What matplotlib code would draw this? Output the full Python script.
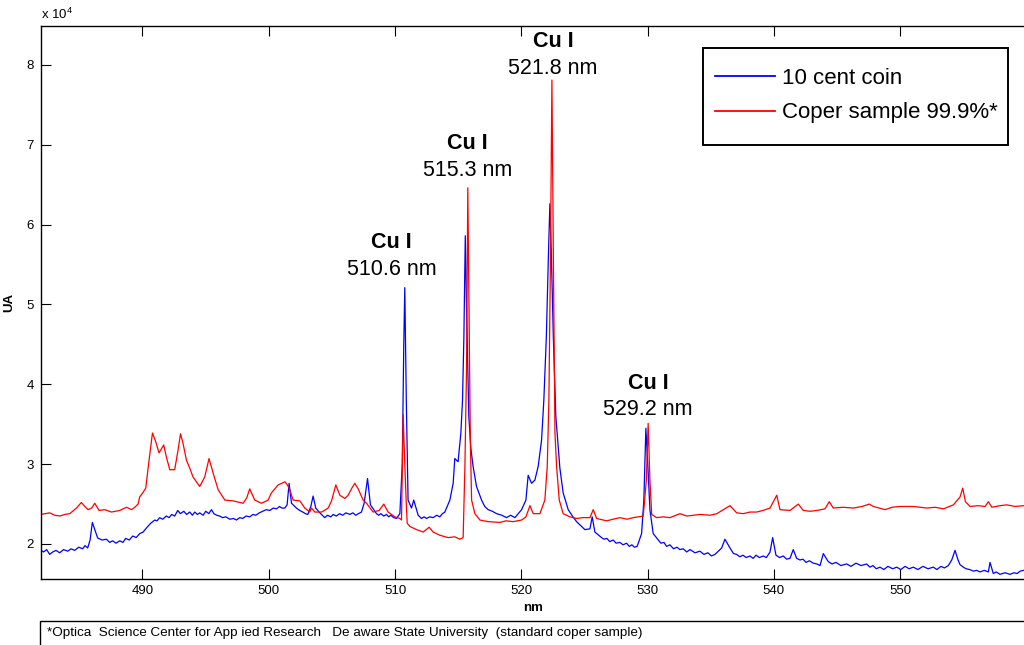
import numpy as np
import matplotlib
matplotlib.use("Agg")
import matplotlib.pyplot as plt
from matplotlib.patches import Rectangle

plt.rcParams["font.family"] = ["Liberation Sans", "DejaVu Sans"]
plt.rcParams["mathtext.fontset"] = "custom"
plt.rcParams["mathtext.rm"] = "Liberation Sans"

# --- 10 cent coin spectrum (nm, UA x 1e4) ---
coin_nm = [481.94, 482.17, 482.41, 482.65, 482.89, 483.15, 483.44, 483.75, 484.08, 484.35,
           484.63, 484.95, 485.26, 485.45, 485.66, 485.85, 486.03, 486.22, 486.45, 486.80,
           487.14, 487.40, 487.64, 487.90, 488.20, 488.45, 488.67, 488.95, 489.23, 489.50,
           489.78, 490.05, 490.31, 490.65, 490.97, 491.15, 491.36, 491.60, 491.89, 492.10,
           492.31, 492.55, 492.79, 493.00, 493.27, 493.50, 493.74, 493.95, 494.14, 494.35,
           494.53, 494.80, 495.01, 495.25, 495.46, 495.65, 495.88, 496.10, 496.35, 496.60,
           496.91, 497.20, 497.44, 497.70, 497.94, 498.20, 498.49, 498.75, 498.97, 499.25,
           499.52, 499.80, 500.08, 500.35, 500.61, 500.85, 501.03, 501.27, 501.45, 501.61,
           501.80, 502.19, 502.45, 502.69, 502.90, 503.09, 503.33, 503.51, 503.72, 504.04,
           504.43, 504.65, 504.91, 505.10, 505.36, 505.60, 505.86, 506.10, 506.42, 506.65,
           506.89, 507.10, 507.34, 507.55, 507.82, 508.05, 508.53, 508.70, 508.87, 509.10,
           509.32, 509.50, 509.66, 509.90, 510.11, 510.38, 510.57, 510.69, 510.77, 510.89,
           511.03, 511.30, 511.48, 511.83, 512.09, 512.30, 512.49, 512.75, 513.01, 513.30,
           513.54, 513.75, 513.94, 514.34, 514.60, 514.73, 514.99, 515.21, 515.34, 515.45,
           515.56, 515.68, 515.84, 516.00, 516.18, 516.45, 516.85, 517.10, 517.37, 517.70,
           518.04, 518.45, 518.83, 519.15, 519.49, 519.75, 520.02, 520.36, 520.54, 520.81,
           521.07, 521.33, 521.60, 521.78, 521.98, 522.14, 522.26, 522.38, 522.53, 522.73,
           523.05, 523.31, 523.71, 524.00, 524.37, 524.63, 525.03, 525.43, 525.61, 525.82,
           526.35, 526.55, 526.77, 527.00, 527.27, 527.50, 527.80, 528.05, 528.33, 528.55,
           528.75, 528.95, 529.17, 529.52, 529.70, 529.86, 530.04, 530.18, 530.44, 530.84,
           531.05, 531.29, 531.50, 531.76, 532.05, 532.32, 532.55, 532.82, 533.10, 533.35,
           533.75, 534.14, 534.45, 534.77, 535.05, 535.33, 535.86, 536.12, 536.52, 536.80,
           537.05, 537.30, 537.55, 537.80, 538.10, 538.35, 538.58, 538.85, 539.15, 539.40,
           539.69, 539.90, 540.16, 540.45, 540.74, 541.00, 541.27, 541.53, 541.80, 542.06,
           542.30, 542.54, 542.80, 543.11, 543.40, 543.65, 543.91, 544.30, 544.60, 544.91,
           545.30, 545.76, 546.10, 546.50, 546.90, 547.34, 547.60, 547.84, 548.10, 548.40,
           548.70, 549.03, 549.40, 549.72, 550.05, 550.38, 550.70, 551.04, 551.40, 551.80,
           552.20, 552.62, 552.90, 553.23, 553.50, 553.81, 554.08, 554.34, 554.58, 554.74,
           555.00, 555.21, 555.50, 555.79, 556.05, 556.32, 556.65, 556.98, 557.11, 557.37,
           557.60, 557.90, 558.30, 558.70, 559.00, 559.25, 559.50, 559.75]
coin_ua = [1.925, 1.90, 1.93, 1.87, 1.90, 1.92, 1.89, 1.93, 1.91, 1.94,
           1.92, 1.96, 1.94, 1.98, 1.95, 2.05, 2.27, 2.18, 2.075, 2.05,
           2.06, 2.02, 2.04, 2.01, 2.04, 2.02, 2.07, 2.05, 2.10, 2.08,
           2.13, 2.15, 2.20, 2.26, 2.30, 2.29, 2.33, 2.31, 2.35, 2.33,
           2.37, 2.35, 2.42, 2.38, 2.41, 2.37, 2.40, 2.36, 2.40, 2.37,
           2.39, 2.36, 2.41, 2.38, 2.43, 2.38, 2.36, 2.35, 2.33, 2.34,
           2.31, 2.32, 2.30, 2.33, 2.32, 2.35, 2.34, 2.37, 2.36, 2.39,
           2.41, 2.43, 2.42, 2.45, 2.44, 2.47, 2.45, 2.45, 2.49, 2.76,
           2.51, 2.45, 2.42, 2.40, 2.38, 2.37, 2.47, 2.60, 2.45, 2.39,
           2.33, 2.36, 2.34, 2.37, 2.35, 2.38, 2.36, 2.39, 2.37, 2.39,
           2.36, 2.38, 2.40, 2.51, 2.82, 2.49, 2.38, 2.36, 2.38, 2.35,
           2.37, 2.34, 2.36, 2.33, 2.32, 2.38, 3.0, 4.5, 5.21, 3.8,
           2.55, 2.45, 2.55, 2.36, 2.32, 2.34, 2.32, 2.34, 2.33, 2.36,
           2.34, 2.38, 2.40, 2.55, 2.76, 3.07, 3.03, 3.39, 3.80, 4.6,
           5.86, 4.8, 3.6, 3.2, 2.97, 2.72, 2.55, 2.47, 2.43, 2.41,
           2.38, 2.36, 2.33, 2.36, 2.33, 2.38, 2.43, 2.55, 2.86, 2.76,
           2.80, 2.97, 3.30, 3.80, 4.6, 5.6, 6.26, 5.6, 4.6, 3.6,
           2.95, 2.64, 2.43, 2.36, 2.28, 2.24, 2.18, 2.19, 2.34, 2.15,
           2.08, 2.06, 2.07, 2.03, 2.05, 2.01, 2.02, 1.99, 2.01, 1.97,
           1.99, 1.96, 1.97, 2.13, 2.55, 3.45, 2.9, 2.43, 2.13, 2.05,
           2.01, 2.02, 1.97, 1.99, 1.94, 1.96, 1.93, 1.94, 1.90, 1.93,
           1.89, 1.91, 1.87, 1.89, 1.85, 1.87, 1.95, 2.06, 1.95, 1.88,
           1.87, 1.84, 1.86, 1.83, 1.85, 1.82, 1.86, 1.83, 1.85, 1.83,
           1.90, 2.08, 1.86, 1.83, 1.85, 1.81, 1.82, 1.93, 1.82, 1.80,
           1.81, 1.77, 1.79, 1.76, 1.75, 1.73, 1.88, 1.78, 1.75, 1.77,
           1.73, 1.75, 1.72, 1.76, 1.73, 1.75, 1.71, 1.73, 1.69, 1.71,
           1.68, 1.72, 1.69, 1.71, 1.68, 1.72, 1.69, 1.71, 1.68, 1.72,
           1.69, 1.71, 1.68, 1.72, 1.70, 1.73, 1.80, 1.92, 1.80, 1.74,
           1.71, 1.69, 1.68, 1.66, 1.67, 1.65, 1.67, 1.65, 1.77, 1.63,
           1.65, 1.62, 1.64, 1.62, 1.64, 1.63, 1.66, 1.67]

# --- copper standard spectrum ---
copper_nm = [481.94, 482.65, 483.05, 483.44, 483.84, 484.24, 484.77, 485.16, 485.43, 485.69,
             485.98, 486.22, 486.56, 487.01, 487.54, 487.88, 488.20, 488.73, 489.13, 489.39,
             489.65, 489.78, 490.02, 490.26, 490.52, 490.79, 491.05, 491.31, 491.68, 491.89,
             492.16, 492.55, 492.82, 493.01, 493.21, 493.48, 493.74, 494.00, 494.53, 494.93,
             495.27, 495.59, 495.99, 496.52, 497.17, 497.97, 498.26, 498.49, 498.89, 499.42,
             499.95, 500.21, 500.74, 501.03, 501.27, 501.43, 501.61, 501.93, 502.46, 502.85,
             503.25, 503.38, 503.65, 504.18, 504.70, 504.97, 505.31, 505.63, 506.02, 506.28,
             506.58, 506.81, 507.08, 507.47, 507.74, 508.26, 508.74, 509.11, 509.45, 509.98,
             510.38, 510.51, 510.57, 510.64, 510.77, 510.89, 510.96, 511.17, 511.70, 512.22,
             512.70, 513.01, 513.54, 514.20, 514.73, 515.13, 515.39, 515.53, 515.66, 515.76,
             515.88, 515.96, 516.06, 516.32, 516.72, 517.37, 518.30, 518.78, 519.35, 520.02,
             520.36, 520.68, 520.94, 521.47, 521.86, 522.05, 522.18, 522.30, 522.42, 522.54,
             522.66, 522.79, 523.00, 523.31, 523.58, 523.84, 524.37, 524.87, 525.43, 525.69,
             525.96, 526.75, 527.25, 527.80, 528.36, 528.86, 529.23, 529.65, 529.90, 530.04,
             530.18, 530.32, 530.71, 531.21, 531.76, 532.56, 533.11, 533.61, 534.14, 534.93,
             535.49, 535.99, 536.52, 537.05, 537.57, 538.10, 538.63, 539.13, 539.69, 540.22,
             540.48, 541.27, 541.93, 542.32, 542.86, 543.39, 544.04, 544.38, 544.70, 545.47,
             546.29, 546.98, 547.55, 547.87, 548.80, 549.35, 549.99, 551.04, 552.10, 552.76,
             553.42, 554.21, 554.74, 554.95, 555.16, 555.53, 556.16, 556.72, 556.98, 557.25,
             557.90, 558.44, 559.09, 559.75]
copper_ua = [2.37, 2.39, 2.36, 2.35, 2.37, 2.38, 2.45, 2.52, 2.47, 2.43,
             2.45, 2.51, 2.42, 2.43, 2.40, 2.41, 2.42, 2.46, 2.43, 2.46,
             2.50, 2.59, 2.64, 2.70, 3.05, 3.39, 3.28, 3.14, 3.24, 3.09,
             2.93, 2.93, 3.18, 3.38, 3.26, 3.05, 2.95, 2.84, 2.72, 2.84,
             3.07, 2.89, 2.68, 2.55, 2.54, 2.51, 2.58, 2.69, 2.55, 2.51,
             2.55, 2.64, 2.74, 2.76, 2.78, 2.75, 2.70, 2.55, 2.54, 2.45,
             2.40, 2.45, 2.40, 2.40, 2.45, 2.54, 2.74, 2.61, 2.57, 2.61,
             2.70, 2.76, 2.69, 2.55, 2.51, 2.40, 2.42, 2.50, 2.40, 2.34,
             2.32, 2.30, 2.9, 3.62, 3.0, 2.5, 2.26, 2.22, 2.18, 2.15,
             2.21, 2.15, 2.11, 2.08, 2.09, 2.06, 2.08, 2.97, 4.2, 6.46,
             4.5, 3.3, 2.55, 2.38, 2.30, 2.28, 2.27, 2.29, 2.28, 2.30,
             2.34, 2.48, 2.38, 2.38, 2.55, 2.97, 3.8, 5.5, 7.81, 5.5,
             3.39, 2.97, 2.55, 2.38, 2.36, 2.34, 2.32, 2.33, 2.33, 2.43,
             2.32, 2.29, 2.31, 2.33, 2.31, 2.33, 2.34, 2.35, 2.8, 3.51,
             2.8, 2.37, 2.33, 2.34, 2.33, 2.38, 2.35, 2.36, 2.37, 2.36,
             2.38, 2.43, 2.48, 2.39, 2.38, 2.40, 2.40, 2.42, 2.45, 2.61,
             2.43, 2.42, 2.50, 2.42, 2.41, 2.42, 2.44, 2.53, 2.45, 2.46,
             2.45, 2.47, 2.50, 2.47, 2.43, 2.46, 2.47, 2.47, 2.45, 2.46,
             2.44, 2.49, 2.59, 2.70, 2.53, 2.47, 2.48, 2.47, 2.53, 2.46,
             2.48, 2.49, 2.47, 2.48]

series_labels = ["10 cent coin", "Coper sample 99.9%*"]
line_names = ["Cu I", "Cu I", "Cu I", "Cu I"]
line_nm_text = ["510.6 nm", "515.3 nm", "521.8 nm", "529.2 nm"]
# label anchor (nm, UA x 1e4)
label_x = [509.74, 515.72, 522.50, 530.02]
label_y = [5.77, 7.01, 8.29, 4.01]

footnote = "*Optica  Science Center for App ied Research   De aware State University  (standard coper sample)"

W, H = 1024, 645
fig = plt.figure(figsize=(W / 100, H / 100), dpi=100)
ax = fig.add_axes([40.7 / W, 1 - 578.5 / H, (1025.5 - 40.7) / W, (578.5 - 25.7) / H])

scale = 1e4
ax.plot(coin_nm, np.array(coin_ua) * scale, color="#0000ff", lw=0.9, label=series_labels[0])
ax.plot(copper_nm, np.array(copper_ua) * scale, color="#ff0000", lw=0.9, label=series_labels[1])

ax.set_xlim(481.94, 559.92)
ax.set_ylim(1.568 * scale, 8.49 * scale)
ax.set_xticks(range(490, 551, 10))
yt = np.arange(2, 9)
ax.set_yticks(yt * scale)
ax.set_yticklabels([str(v) for v in yt])
ax.tick_params(direction="in", length=7, width=0.8, top=True, right=False,
               labelsize=9.5, pad=5)
for s in ax.spines.values():
    s.set_linewidth(1.0)

ax.set_xlabel("nm", fontsize=9.5, fontweight="bold", labelpad=3)
ax.set_ylabel("UA", fontsize=9.5, fontweight="bold", labelpad=8)
ax.text(0.0, 1 + 6.5 / 553, r"x 10$^{4}$", transform=ax.transAxes, fontsize=9.5,
        ha="left", va="baseline")

for name, nm, x, y in zip(line_names, line_nm_text, label_x, label_y):
    ax.text(x, y * scale, name, fontsize=15.5, fontweight="bold", ha="center", va="center")
    ax.text(x, (y - 0.33) * scale, nm, fontsize=15.5, ha="center", va="center")

# legend: frame drawn separately so padding can differ per side
leg = ax.legend(loc="upper left", bbox_to_anchor=(715 / W, 1 - 68 / H),
                bbox_transform=fig.transFigure, borderaxespad=0, borderpad=0,
                fontsize=16, frameon=False,
                handlelength=2.7, handletextpad=0.3, labelspacing=0.6)
for h in leg.get_lines():
    h.set_linewidth(1.3)
fig.patches.append(Rectangle((703 / W, 1 - 145 / H), (1008 - 703) / W, (145 - 48) / H,
                             transform=fig.transFigure, fill=False, lw=1.4,
                             edgecolor="black", zorder=5))

fig.patches.append(Rectangle((40 / W, -0.05), 1.0, (645 - 621) / H + 0.05,
                             transform=fig.transFigure, fill=False, lw=1.0,
                             edgecolor="black"))
fig.text(47 / W, (645 - 633) / H, footnote, fontsize=9.7, ha="left", va="center")

fig.savefig("out.png", dpi=100)
